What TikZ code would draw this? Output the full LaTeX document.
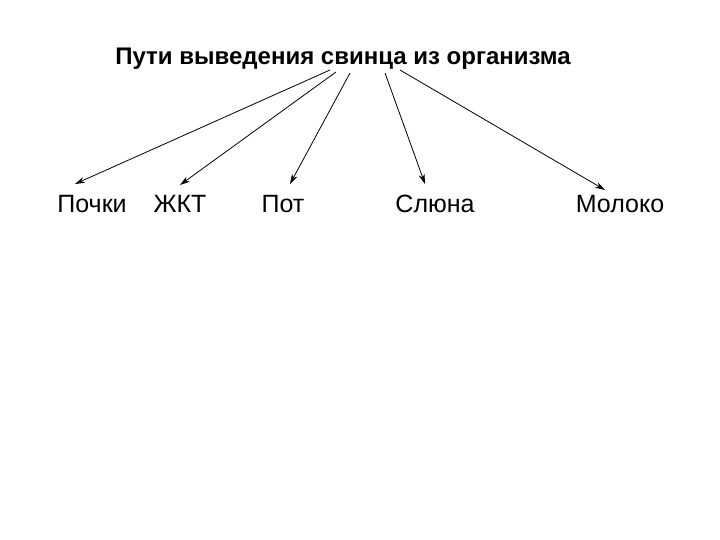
\documentclass[tikz,border=0pt]{standalone}
\usepackage{fontspec}
\setmainfont{Liberation Sans}
\usetikzlibrary{arrows.meta}
\begin{document}
\begin{tikzpicture}[x=1pt,y=-1pt,
  lbl/.style={font=\fontsize{25}{29}\selectfont, inner sep=0pt},
  arr/.style={-{Stealth[length=10pt,width=6pt]}, line width=0.8pt}]
\useasboundingbox (0,0) rectangle (720,540);
\node[lbl,font=\bfseries\fontsize{24}{28}\selectfont] (t) at (343,59) {Пути выведения свинца из организма};
\node[lbl] (a) at (92,204) {Почки};
\node[lbl] (b) at (180,204) {ЖКТ};
\node[lbl] (c) at (283,204) {Пот};
\node[lbl] (d) at (435,204) {Слюна};
\node[lbl] (e) at (620,204) {Молоко};
\coordinate (s1) at (330,70);
\coordinate (s2) at (336,72);
\coordinate (s3) at (350,73);
\coordinate (s4) at (385,73);
\coordinate (s5) at (400,70);
\draw[arr] (s1) -- (75,184);
\draw[arr] (s2) -- (180,185);
\draw[arr] (s3) -- (290,184);
\draw[arr] (s4) -- (425,184);
\draw[arr] (s5) -- (605,190);
\end{tikzpicture}
\end{document}
